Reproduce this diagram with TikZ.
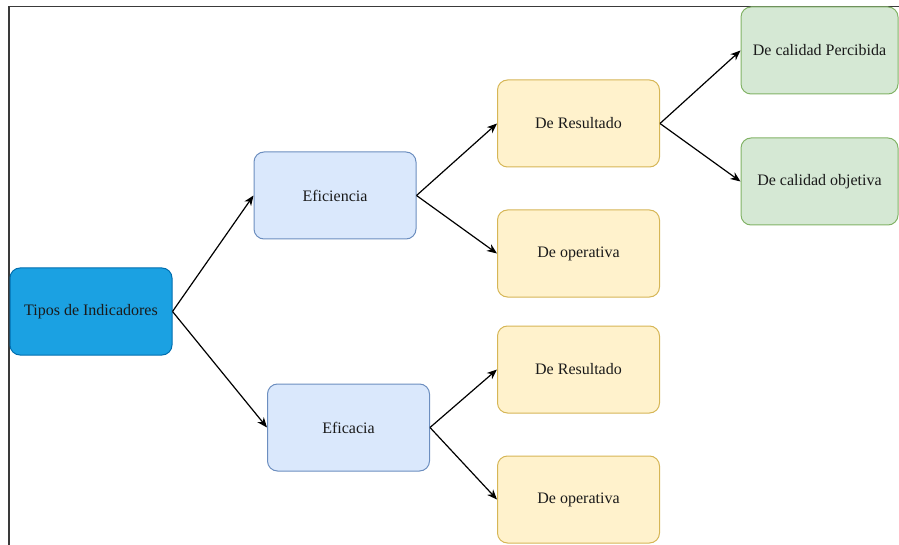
\documentclass[tikz,border=0pt]{standalone}
\usepackage{fontspec}
\setmainfont{Liberation Serif}
\usetikzlibrary{arrows.meta}
\definecolor{rootfill}{HTML}{1BA1E2}
\definecolor{rootline}{HTML}{006EAF}
\definecolor{bluefill}{HTML}{DAE8FC}
\definecolor{blueline}{HTML}{6C8EBF}
\definecolor{yellowfill}{HTML}{FFF2CC}
\definecolor{yellowline}{HTML}{D6B656}
\definecolor{greenfill}{HTML}{D5E8D4}
\definecolor{greenline}{HTML}{82B366}
\definecolor{frameline}{HTML}{3A3A3A}
\definecolor{txt}{HTML}{1A1A1A}
\tikzset{
  box/.style={draw, rounded corners=10pt, line width=1pt, minimum width=162pt,
    minimum height=87pt, inner sep=0pt, font=\fontsize{16}{19}\selectfont, text=txt},
  rootbox/.style={box, fill=rootfill, draw=rootline},
  midbox/.style={box, fill=bluefill, draw=blueline},
  leafbox/.style={box, fill=yellowfill, draw=yellowline},
  endbox/.style={box, fill=greenfill, draw=greenline, minimum width=157pt},
  link/.style={draw=black, line width=1.2pt, -{Stealth[length=10pt,width=8pt,inset=3pt]}},
}
\begin{document}
\begin{tikzpicture}[x=1pt,y=-1pt]
\useasboundingbox (0,0) rectangle (899,545);
% frame on the top and left sides
\draw[frameline, line width=1.5pt] (9,545) -- (9,6.5) -- (899,6.5);

\node[rootbox] (root) at (91,311.5) {Tipos de Indicadores};
\node[midbox] (efn) at (335,195.5) {Eficiencia};
\node[midbox] (efc) at (348.5,427.5) {Eficacia};
\node[leafbox] (res1) at (578.5,123.5) {De Resultado};
\node[leafbox] (op1) at (578.5,253.5) {De operativa};
\node[leafbox] (res2) at (578.5,369.5) {De Resultado};
\node[leafbox] (op2) at (578.5,499.5) {De operativa};
\node[endbox] (perc) at (819.5,50.5) {De calidad Percibida};
\node[endbox] (obj) at (819.5,181.5) {De calidad objetiva};

\draw[link] (root.east) -- (efn.west);
\draw[link] (root.east) -- (efc.west);
\draw[link] (efn.east) -- (res1.west);
\draw[link] (efn.east) -- (op1.west);
\draw[link] (efc.east) -- (res2.west);
\draw[link] (efc.east) -- (op2.west);
\draw[link] (res1.east) -- (perc.west);
\draw[link] (res1.east) -- (obj.west);
\end{tikzpicture}
\end{document}
